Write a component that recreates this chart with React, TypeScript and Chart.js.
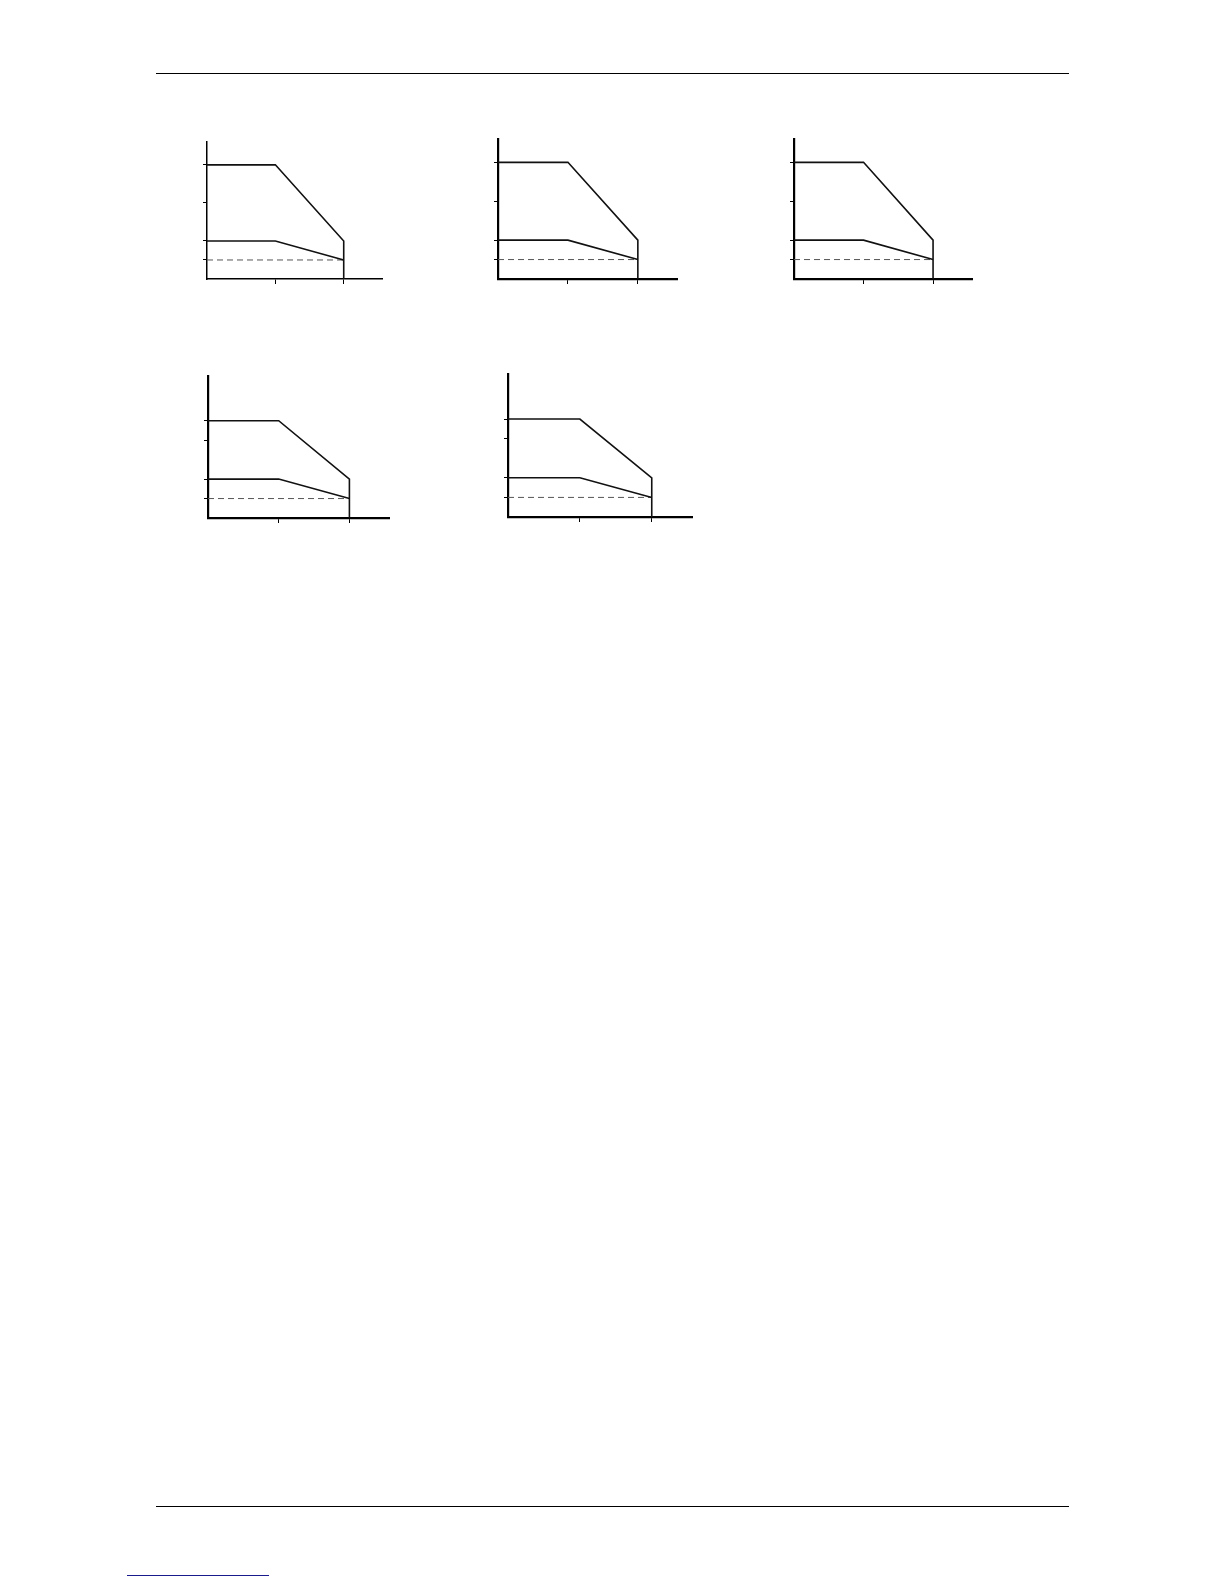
import React, { useEffect, useRef } from "react";
import { Chart, registerables } from "chart.js";

Chart.register(...registerables);

// ---- data ----
const xTicks = [1, 2];
const xMax = 2.56;

const yTicksA = [1, 2, 4, 6];
const yMaxA = 7.2;
const yTicksB = [1, 2, 4, 5];
const yMaxB = 7.3;

const upperX = [0, 1, 2, 2];
const upperYA = [6, 6, 2, 0];
const upperYB = [5, 5, 2, 0];

const lowerX = [0, 1, 2];
const lowerY = [2, 2, 1];

const limitX = [0, 2];
const limitY = [1, 1];

const toPts = (xs: number[], ys: number[]) => xs.map((x, i) => ({ x, y: ys[i] }));

// ---- layout (page px) ----
type Box = { axisX: number; top: number; bottom: number; xEnd: number; axisW: number };
const PAD = 10;
const TICK_Y = 4;
const TICK_X = 5;

const charts: { box: Box; upperY: number[]; yTicks: number[]; yMax: number }[] = [
  { box: { axisX: 207, top: 142, bottom: 279, xEnd: 382, axisW: 1.5 }, upperY: upperYA, yTicks: yTicksA, yMax: yMaxA },
  { box: { axisX: 498, top: 139, bottom: 279, xEnd: 677, axisW: 2.2 }, upperY: upperYA, yTicks: yTicksA, yMax: yMaxA },
  { box: { axisX: 794, top: 139, bottom: 279, xEnd: 972, axisW: 2.2 }, upperY: upperYA, yTicks: yTicksA, yMax: yMaxA },
  { box: { axisX: 208, top: 376, bottom: 518, xEnd: 389, axisW: 2.2 }, upperY: upperYB, yTicks: yTicksB, yMax: yMaxB },
  { box: { axisX: 508, top: 374, bottom: 517, xEnd: 692, axisW: 2.2 }, upperY: upperYB, yTicks: yTicksB, yMax: yMaxB },
];

function MiniChart({ box, upperY, yTicks, yMax }: { box: Box; upperY: number[]; yTicks: number[]; yMax: number }) {
  const ref = useRef<HTMLCanvasElement>(null);
  const left = box.axisX - PAD - TICK_Y;
  const top = box.top - PAD;
  const width = box.xEnd - box.axisX + PAD * 2 + TICK_Y;
  const height = box.bottom - box.top + PAD * 2 + TICK_X;

  useEffect(() => {
    const line = {
      showLine: true,
      pointRadius: 0,
      pointHoverRadius: 0,
      tension: 0,
      clip: false as any,
    };
    const chart = new Chart(ref.current!, {
      type: "scatter",
      data: {
        datasets: [
          { ...line, data: toPts(upperX, upperY), borderColor: "#111", borderWidth: 1.6 },
          { ...line, data: toPts(lowerX, lowerY), borderColor: "#111", borderWidth: 1.6 },
          { ...line, data: toPts(limitX, limitY), borderColor: "#555", borderWidth: 1, borderDash: [6, 4] },
        ],
      },
      options: {
        animation: false,
        responsive: false,
        events: [],
        layout: { padding: { left: PAD, right: PAD, top: PAD, bottom: PAD } },
        plugins: { legend: { display: false }, tooltip: { enabled: false } },
        scales: {
          x: {
            type: "linear",
            min: 0,
            max: xMax,
            afterBuildTicks: (s: any) => {
              s.ticks = xTicks.map((v) => ({ value: v }));
            },
            ticks: { display: false },
            grid: { drawOnChartArea: false, drawTicks: true, tickLength: TICK_X, color: "#000", lineWidth: 1 },
            border: { display: true, color: "#000", width: box.axisW },
          },
          y: {
            type: "linear",
            min: 0,
            max: yMax,
            afterBuildTicks: (s: any) => {
              s.ticks = yTicks.map((v) => ({ value: v }));
            },
            ticks: { display: false },
            grid: { drawOnChartArea: false, drawTicks: true, tickLength: TICK_Y, color: "#000", lineWidth: 1 },
            border: { display: true, color: "#000", width: box.axisW },
          },
        },
      },
    });
    return () => chart.destroy();
  }, []);

  return (
    <canvas
      ref={ref}
      width={width}
      height={height}
      style={{ position: "absolute", left, top, width, height }}
    />
  );
}

export default function App() {
  return (
    <div style={{ position: "absolute", left: 0, top: 0, width: 1224, height: 1584, background: "#fff" }}>
      <div style={{ position: "absolute", left: 156, top: 73, width: 913, height: 1, background: "#000" }} />
      {charts.map((c, i) => (
        <MiniChart key={i} box={c.box} upperY={c.upperY} yTicks={c.yTicks} yMax={c.yMax} />
      ))}
      <div style={{ position: "absolute", left: 156, top: 1506, width: 913, height: 1, background: "#000" }} />
      <div style={{ position: "absolute", left: 127, top: 1575, width: 142, height: 1, background: "#1a1a8c" }} />
    </div>
  );
}
